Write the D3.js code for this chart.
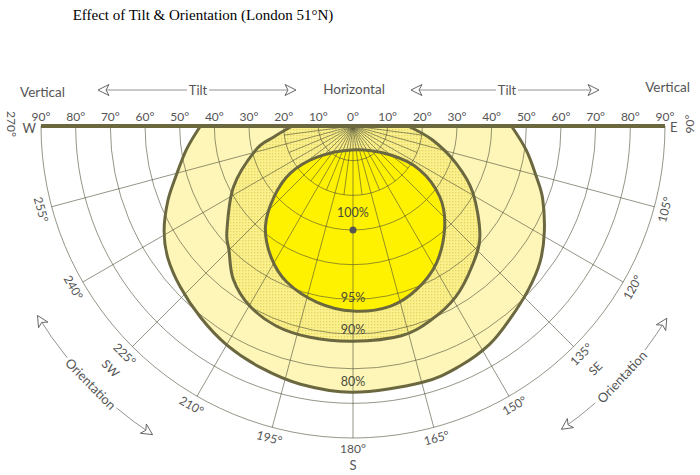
<!DOCTYPE html>
<html>
<head>
<meta charset="utf-8">
<script src="https://cdn.jsdelivr.net/npm/d3@7"></script>
<style>
	body { margin: 0; background: #fff; }
	text { font-family: Lato, "DejaVu Sans", sans-serif; fill: #555; }
</style>
</head>
<body>
<svg id="chart" width="700" height="475"></svg>
<script>
// grid: tilt rings (degrees from horizontal) and orientation spokes (compass degrees)
var tiltTicks = [0, 10, 20, 30, 40, 50, 60, 70, 80, 90];
var orientTicks = [90, 105, 120, 135, 150, 165, 180, 195, 210, 225, 240, 255, 270];
var compass = [{o: 90, t: "E"}, {o: 180, t: "S"}, {o: 270, t: "W"}, {o: 135, t: "SE"}, {o: 225, t: "SW"}];

// contours, [orientation, tilt]
var contour80 = [[90,45.7],[98,50.5],[105.5,54.9],[111,58.6],[119,63.1],[126,66.7],[133,69.2],[141,71.8],
	[148,74.3],[156,75.8],[165,76.6],[180,76.8],[191.5,76],[201,74.6],[210,72.9],[218.5,70.6],
	[227,68.1],[234.5,65.6],[241,62.3],[248,57.6],[254,53.2],[262,48.5],[270,44]];
var contour90 = [[90,15.8],[100,23.3],[110,31.7],[119,39.5],[131,48.5],[140,53.2],[149,57.5],[158,60.3],
	[167,62.1],[180,62.1],[191.5,62.2],[201,61.8],[210,59.8],[218,56.1],[225,50.6],[230,47.5],
	[243,38.7],[256,29],[262,23.2],[270,17.5]];
var contour95 = [[182,6.9],[229,13.7],[233,22.6],[228,30.7],[221,38.5],[212,44.6],[203,48.9],[191.5,51.9],
	[180,53.4],[168.4,53.1],[158.7,50.6],[148.5,46.2],[137.7,39.3],[129.2,32.3],[123.3,23],[128,13.5]];
var optimum = [180, 30];
var pctLabels = ["100%", "95%", "90%", "80%"];

var svg = d3.select("#chart");
var cx = 353, cy = 126;
var ink = "#6b6840";

var r = d3.scaleLinear().domain([0, 90]).range([0, 312]);
var ang = d3.scaleLinear().domain([0, 360]).range([0, 2 * Math.PI]);

function pt(o, t) {
	var a = ang(o), rr = r(t);
	return [rr * Math.sin(a), -rr * Math.cos(a)];
}

var radial = d3.lineRadial()
	.angle(function(d){ return ang(d[0]); })
	.radius(function(d){ return r(d[1]); });

// stipple for the 90-95% band
var defs = svg.append("defs");
var pat = defs.append("pattern").attr("id", "stip")
	.attr("width", 3).attr("height", 3).attr("patternUnits", "userSpaceOnUse");
pat.append("rect").attr("width", 3).attr("height", 3).attr("fill", "#faf08e");
pat.append("rect").attr("width", 1.3).attr("height", 1.3).attr("fill", "#e6d55c");

svg.append("text")
	.attr("x", 203).attr("y", 20)
	.attr("text-anchor", "middle")
	.style("font-family", "'Liberation Serif', serif")
	.style("font-size", "15px")
	.style("fill", "#000")
	.text("Effect of Tilt & Orientation (London 51\u00B0N)");

var g = svg.append("g").attr("transform", "translate(" + cx + "," + cy + ")");

// band fills
g.append("path").attr("d", radial.curve(d3.curveCardinal)(contour80) + "Z").attr("fill", "#fdf6b8");
g.append("path").attr("d", radial.curve(d3.curveCardinal)(contour90) + "Z").attr("fill", "url(#stip)");
g.append("path").attr("d", radial.curve(d3.curveCardinalClosed)(contour95)).attr("fill", "#fff200");

// grid
var grid = g.append("g").attr("fill", "none").attr("stroke", "#4d4d38").attr("stroke-width", 0.6);
tiltTicks.slice(1).forEach(function(t){
	var p = d3.path();
	p.moveTo(r(t), 0);
	p.arc(0, 0, r(t), 0, Math.PI);
	grid.append("path").attr("d", p.toString());
});
orientTicks.slice(1, -1).forEach(function(o){
	var e = pt(o, 90);
	grid.append("line").attr("x1", 0).attr("y1", 0).attr("x2", e[0]).attr("y2", e[1]);
});
d3.range(97.5, 270, 15).forEach(function(o){
	var e = pt(o, 20);
	grid.append("line").attr("x1", 0).attr("y1", 0).attr("x2", e[0]).attr("y2", e[1]);
});

// contour lines
g.append("path").attr("d", radial.curve(d3.curveCardinal)(contour80))
	.attr("fill", "none").attr("stroke", ink).attr("stroke-width", 3);
g.append("path").attr("d", radial.curve(d3.curveCardinal)(contour90))
	.attr("fill", "none").attr("stroke", ink).attr("stroke-width", 3);
g.append("path").attr("d", radial.curve(d3.curveCardinalClosed)(contour95))
	.attr("fill", "none").attr("stroke", ink).attr("stroke-width", 3);

var op = pt(optimum[0], optimum[1]);
g.append("circle").attr("cx", op[0]).attr("cy", op[1]).attr("r", 3.5).attr("fill", "#555");

// horizon line
g.append("line").attr("x1", -r(90)).attr("x2", r(90)).attr("y1", 0).attr("y2", 0)
	.attr("stroke", ink).attr("stroke-width", 4);

// percentage labels along the south spoke
var labelTilt = [25, 49.4, 58.6, 73.6];
pctLabels.forEach(function(s, i){
	var p = pt(180, labelTilt[i]);
	g.append("text").attr("x", p[0]).attr("y", p[1])
		.attr("text-anchor", "middle").attr("dy", "0.35em")
		.style("font-size", "12.5px").style("fill", "#4a4a3a")
		.text(s);
});

// tilt tick labels on both sides
tiltTicks.forEach(function(t){
	var xs = t === 0 ? [0] : [-r(t), r(t)];
	xs.forEach(function(x){
		g.append("text").attr("x", x).attr("y", -5)
			.attr("text-anchor", "middle")
			.style("font-size", "12px")
			.text(t + "\u00B0");
	});
});

// orientation labels
orientTicks.forEach(function(o){
	var far = (o === 90 || o === 270);
	var p = pt(o, 90);
	var k = (r(90) + (far ? (o === 90 ? 25 : 30) : 11)) / r(90);
	g.append("text")
		.attr("transform", "translate(" + (p[0] * k) + "," + (p[1] * k - (far ? 2 : 0)) + ") rotate(" + (o - 180) + ")")
		.attr("text-anchor", "middle").attr("dy", "0.35em")
		.style("font-size", "12px")
		.text(o + "\u00B0");
});

compass.forEach(function(c){
	var x, y, rot = 0, anchor = "middle";
	if (c.o === 90) { x = r(90) + 5; y = 6; anchor = "start"; }
	else if (c.o === 270) { x = -r(90) - 5; y = 7; anchor = "end"; }
	else if (c.o === 180) { x = 0; y = r(90) + 27; }
	else {
		var p = pt(c.o, 90), k = (r(90) + 31) / r(90);
		x = p[0] * k; y = p[1] * k; rot = c.o - 180;
	}
	g.append("text")
		.attr("transform", "translate(" + x + "," + y + ") rotate(" + rot + ")")
		.attr("text-anchor", anchor).attr("dy", c.o === 90 || c.o === 270 ? 0 : "0.35em")
		.style("font-size", c.t.length > 1 ? "12px" : "13px")
		.text(c.t);
});

// open arrowhead with tip at (x,y) pointing along (dx,dy)
function arrowHead(sel, x, y, dx, dy) {
	var L = 11, W = 5.5;
	var bx = x - dx * L, by = y - dy * L;
	var nx = -dy, ny = dx;
	sel.append("path")
		.attr("d", "M" + x + "," + y + "L" + (bx + nx * W) + "," + (by + ny * W) +
			"L" + (bx + dx * 3) + "," + (by + dy * 3) +
			"L" + (bx - nx * W) + "," + (by - ny * W) + "Z")
		.attr("fill", "#fff").attr("stroke", "#666").attr("stroke-width", 1);
}

// tilt arrows in the header
var head = svg.append("g");
[[98, 296, 198], [411, 599, 507]].forEach(function(a){
	var y = 90;
	head.append("line").attr("x1", a[0] + 8).attr("x2", a[2] - 11).attr("y1", y).attr("y2", y)
		.attr("stroke", "#777").attr("stroke-width", 0.8);
	head.append("line").attr("x1", a[2] + 11).attr("x2", a[1] - 8).attr("y1", y).attr("y2", y)
		.attr("stroke", "#777").attr("stroke-width", 0.8);
	arrowHead(head, a[0], y, -1, 0);
	arrowHead(head, a[1], y, 1, 0);
	head.append("text").attr("x", a[2]).attr("y", y + 4.5).attr("text-anchor", "middle")
		.style("font-size", "13px").text("Tilt");
});
head.append("text").attr("x", 20).attr("y", 97).style("font-size", "13.5px").text("Vertical");
head.append("text").attr("x", 354).attr("y", 94).attr("text-anchor", "middle").style("font-size", "13.5px").text("Horizontal");
head.append("text").attr("x", 690).attr("y", 92).attr("text-anchor", "end").style("font-size", "13.5px").text("Vertical");

// orientation arrows along an outer arc
[[213, 239, 220, 231, 225.5], [121.5, 145.5, 127.5, 138.8, 133]].forEach(function(a){
	var R = 368;
	var arcPart = function(o1, o2){
		var p = d3.path();
		var s = ang(o1) - Math.PI / 2, e = ang(o2) - Math.PI / 2;
		p.moveTo(R * Math.cos(s), R * Math.sin(s));
		p.arc(0, 0, R, s, e);
		g.append("path").attr("d", p.toString()).attr("fill", "none")
			.attr("stroke", "#777").attr("stroke-width", 0.8);
	};
	arcPart(a[0], a[2]);
	arcPart(a[3], a[1]);
	var lo = ang(a[0]), hi = ang(a[1]);
	arrowHead(g, R * Math.sin(lo), -R * Math.cos(lo), -Math.cos(lo), -Math.sin(lo));
	arrowHead(g, R * Math.sin(hi), -R * Math.cos(hi), Math.cos(hi), Math.sin(hi));
	var m = ang(a[4]);
	g.append("text")
		.attr("transform", "translate(" + (R * Math.sin(m)) + "," + (-R * Math.cos(m)) + ") rotate(" + (a[4] - 180) + ")")
		.attr("text-anchor", "middle").attr("dy", "0.35em")
		.style("font-size", "13px")
		.text("Orientation");
});
</script>
</body>
</html>
